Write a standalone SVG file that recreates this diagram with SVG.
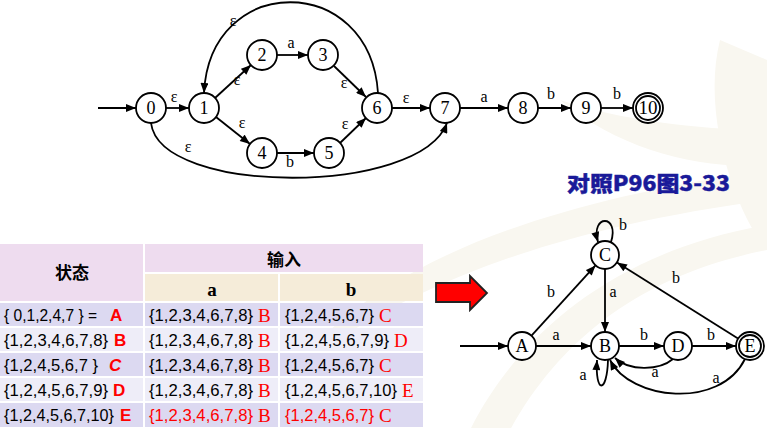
<svg xmlns="http://www.w3.org/2000/svg" width="767" height="428" viewBox="0 0 767 428">
<style>
.n{fill:#fff;stroke:#000;stroke-width:1.8}
.e{fill:none;stroke:#000;stroke-width:1.8}
.nl{font-family:"Liberation Serif",serif;font-size:18px;text-anchor:middle;fill:#000}
.el{font-family:"Liberation Serif",serif;font-size:16px;text-anchor:middle;fill:#000}
.ts{font-family:"Liberation Sans",sans-serif;font-size:16.5px;fill:#000}
.tr{font-family:"Liberation Serif",serif;font-size:19px;fill:#f00}
.trs{font-family:"Liberation Sans",sans-serif;font-size:17px;font-weight:bold;fill:#f00}
.hd{font-family:"Noto Sans CJK SC",sans-serif;font-size:17px;font-weight:bold;text-anchor:middle;fill:#000}
.hl{font-family:"Liberation Serif",serif;font-size:19px;font-weight:bold;text-anchor:middle;fill:#000}
.bg{fill:#f9f7f0}
</style>
<defs>
<marker id="ar" viewBox="0 0 10 8" refX="10" refY="4" markerWidth="11" markerHeight="8" markerUnits="userSpaceOnUse" orient="auto">
<path d="M0,0 L10,4 L0,8 Z" fill="#000"/>
</marker>
</defs>
<rect width="767" height="428" fill="#fff"/>
<g id="background">
<path class="bg" d="M330,330 C420,250 560,200 767,170 L767,200 C580,225 450,270 345,335 Z"/>
<path class="bg" d="M470,430 C520,330 620,250 767,225 L767,250 C640,275 560,340 510,430 Z"/>
<path class="bg" d="M560,100 C620,150 700,170 767,165 L767,130 C700,130 620,120 560,100 Z"/>
<path class="bg" d="M720,40 C700,120 740,220 767,250 L767,60 Z"/>
</g>
<g id="connectors">
<path class="e" marker-end="url(#ar)" d="M98,108 L136,108"/>
<path class="e" marker-end="url(#ar)" d="M165,108 L189,108"/>
<path class="e" marker-end="url(#ar)" d="M215,98 L251,65"/>
<path class="e" marker-end="url(#ar)" d="M216,117 L250,144"/>
<path class="e" marker-end="url(#ar)" d="M277,55 L308,55"/>
<path class="e" marker-end="url(#ar)" d="M277,153 L314,153"/>
<path class="e" marker-end="url(#ar)" d="M334,66 L366,97"/>
<path class="e" marker-end="url(#ar)" d="M340,143 L366,118"/>
<path class="e" marker-end="url(#ar)" d="M392,108 L430,108"/>
<path class="e" marker-end="url(#ar)" d="M460,108 L508,108"/>
<path class="e" marker-end="url(#ar)" d="M538,108 L571,108"/>
<path class="e" marker-end="url(#ar)" d="M601,108 L633,108"/>
<path class="e" marker-end="url(#ar)" d="M378,93 C370,-28 210,-28 204,93"/>
<path class="e" marker-end="url(#ar)" d="M151,123 C160,196 420,196 447,123"/>
<path class="e" marker-end="url(#ar)" d="M460,346 L508,346"/>
<path class="e" marker-end="url(#ar)" d="M536,346 L591,346"/>
<path class="e" marker-end="url(#ar)" d="M619,346 L664,346"/>
<path class="e" marker-end="url(#ar)" d="M692,346 L736,346"/>
<path class="e" marker-end="url(#ar)" d="M605,269 L605,332"/>
<path class="e" marker-end="url(#ar)" d="M531.5,335.6 L595.5,265.4"/>
<path class="e" marker-end="url(#ar)" d="M738,338.5 L617,262.5"/>
<path class="e" marker-end="url(#ar)" d="M673,359 C660,370 630,372 615,358"/>
<path class="e" marker-end="url(#ar)" d="M745,359 C720,410 630,400 610,360"/>
<path class="e" marker-end="url(#ar)" d="M608,360 C607,394 595,394 597,360"/>
<path class="e" marker-end="url(#ar)" d="M611,242 C620,214 590,214 598,242"/>
<g class="el">
<text x="174" y="102">ε</text>
<text x="237" y="85">ε</text>
<text x="242" y="128">ε</text>
<text x="291" y="48">a</text>
<text x="290" y="167">b</text>
<text x="344" y="88">ε</text>
<text x="345" y="129">ε</text>
<text x="406" y="103">ε</text>
<text x="233" y="26">ε</text>
<text x="188" y="152">ε</text>
<text x="484" y="102">a</text>
<text x="551" y="99">b</text>
<text x="617" y="99">b</text>
<text x="623" y="230">b</text>
<text x="551" y="297">b</text>
<text x="613" y="297">a</text>
<text x="676" y="283">b</text>
<text x="556" y="340">a</text>
<text x="644" y="340">b</text>
<text x="711" y="340">b</text>
<text x="655" y="377">a</text>
<text x="716" y="383">a</text>
<text x="583" y="380">a</text>
</g>
</g>
<g id="n0"><circle class="n" cx="151" cy="108" r="15"/><text class="nl" x="151" y="114">0</text></g>
<g id="n1"><circle class="n" cx="204" cy="108" r="15"/><text class="nl" x="204" y="114">1</text></g>
<g id="n2"><circle class="n" cx="262" cy="55" r="15"/><text class="nl" x="262" y="61">2</text></g>
<g id="n3"><circle class="n" cx="323" cy="55" r="15"/><text class="nl" x="323" y="61">3</text></g>
<g id="n4"><circle class="n" cx="262" cy="153" r="15"/><text class="nl" x="262" y="159">4</text></g>
<g id="n5"><circle class="n" cx="329" cy="153" r="15"/><text class="nl" x="329" y="159">5</text></g>
<g id="n6"><circle class="n" cx="377" cy="108" r="15"/><text class="nl" x="377" y="114">6</text></g>
<g id="n7"><circle class="n" cx="445" cy="108" r="15"/><text class="nl" x="445" y="114">7</text></g>
<g id="n8"><circle class="n" cx="523" cy="108" r="15"/><text class="nl" x="523" y="114">8</text></g>
<g id="n9"><circle class="n" cx="586" cy="108" r="15"/><text class="nl" x="586" y="114">9</text></g>
<g id="n10"><circle class="n" cx="648" cy="108" r="15"/><circle class="n" cx="648" cy="108" r="12"/><text class="nl" x="648" y="114" textLength="19" lengthAdjust="spacingAndGlyphs">10</text></g>
<g id="title"><text x="567" y="191" font-family="'Noto Sans CJK SC',sans-serif" font-size="21" font-weight="900" fill="#1a1a99" stroke="#1a1a99" stroke-width="0.4" textLength="163" lengthAdjust="spacingAndGlyphs">对照P96图3-33</text></g>
<g id="table">
<rect x="0" y="244" width="143" height="57" fill="#eedcef"/>
<rect x="145" y="244" width="278" height="28" fill="#eedcef"/>
<rect x="145" y="274" width="133" height="27" fill="#f5ecd9"/>
<rect x="280" y="274" width="143" height="27" fill="#f5ecd9"/>
<g fill="#dcd9f1">
<rect x="0" y="303" width="143" height="23"/><rect x="145" y="303" width="133" height="23"/><rect x="280" y="303" width="143" height="23"/>
<rect x="0" y="353" width="143" height="23"/><rect x="145" y="353" width="133" height="23"/><rect x="280" y="353" width="143" height="23"/>
<rect x="0" y="403" width="143" height="24"/><rect x="145" y="403" width="133" height="24"/><rect x="280" y="403" width="143" height="24"/>
</g>
<g fill="#eeedf8">
<rect x="0" y="328" width="143" height="23"/><rect x="145" y="328" width="133" height="23"/><rect x="280" y="328" width="143" height="23"/>
<rect x="0" y="378" width="143" height="23"/><rect x="145" y="378" width="133" height="23"/><rect x="280" y="378" width="143" height="23"/>
</g>
<text class="hd" x="72" y="279">状态</text>
<text class="hd" x="284" y="266">输入</text>
<text class="hl" x="212" y="296">a</text>
<text class="hl" x="351" y="296">b</text>
<text class="ts" x="4" y="321" textLength="93" lengthAdjust="spacingAndGlyphs">{ 0,1,2,4,7 } =</text><text class="trs" x="110" y="321">A</text>
<text class="ts" x="4" y="346" textLength="104" lengthAdjust="spacingAndGlyphs">{1,2,3,4,6,7,8}</text><text class="trs" x="114" y="346">B</text>
<text class="ts" x="4" y="371" textLength="94" lengthAdjust="spacingAndGlyphs">{1,2,4,5,6,7 }</text><text class="trs" x="109" y="371" font-style="italic">C</text>
<text class="ts" x="4" y="396" textLength="104" lengthAdjust="spacingAndGlyphs">{1,2,4,5,6,7,9}</text><text class="trs" x="113" y="396">D</text>
<text class="ts" x="4" y="421" textLength="110" lengthAdjust="spacingAndGlyphs">{1,2,4,5,6,7,10}</text><text class="trs" x="120" y="421">E</text>
<text class="ts" x="149" y="321" textLength="104" lengthAdjust="spacingAndGlyphs">{1,2,3,4,6,7,8}</text><text class="tr" x="258" y="322">B</text>
<text class="ts" x="149" y="346" textLength="104" lengthAdjust="spacingAndGlyphs">{1,2,3,4,6,7,8}</text><text class="tr" x="258" y="347">B</text>
<text class="ts" x="149" y="371" textLength="104" lengthAdjust="spacingAndGlyphs">{1,2,3,4,6,7,8}</text><text class="tr" x="258" y="372">B</text>
<text class="ts" x="149" y="396" textLength="104" lengthAdjust="spacingAndGlyphs">{1,2,3,4,6,7,8}</text><text class="tr" x="258" y="397">B</text>
<text class="ts" x="149" y="421" textLength="104" lengthAdjust="spacingAndGlyphs" style="fill:#f00">{1,2,3,4,6,7,8}</text><text class="tr" x="258" y="422">B</text>
<text class="ts" x="285" y="321" textLength="89" lengthAdjust="spacingAndGlyphs">{1,2,4,5,6,7}</text><text class="tr" x="379" y="322">C</text>
<text class="ts" x="285" y="346" textLength="104" lengthAdjust="spacingAndGlyphs">{1,2,4,5,6,7,9}</text><text class="tr" x="394" y="347">D</text>
<text class="ts" x="285" y="371" textLength="89" lengthAdjust="spacingAndGlyphs">{1,2,4,5,6,7}</text><text class="tr" x="379" y="372">C</text>
<text class="ts" x="285" y="396" textLength="112" lengthAdjust="spacingAndGlyphs">{1,2,4,5,6,7,10}</text><text class="tr" x="402" y="397">E</text>
<text class="ts" x="285" y="421" textLength="89" lengthAdjust="spacingAndGlyphs" style="fill:#f00">{1,2,4,5,6,7}</text><text class="tr" x="379" y="422">C</text>
</g>
<g id="arrow"><polygon points="436,283 470,283 470,276 487,293 470,310 470,302 436,302" fill="#f00" stroke="#222" stroke-width="1.8" stroke-linejoin="miter"/></g>
<g id="nA"><circle class="n" cx="522" cy="346" r="14"/><text class="nl" x="522" y="352">A</text></g>
<g id="nB"><circle class="n" cx="605" cy="346" r="14"/><text class="nl" x="605" y="352">B</text></g>
<g id="nC"><circle class="n" cx="605" cy="255" r="14"/><text class="nl" x="605" y="261">C</text></g>
<g id="nD"><circle class="n" cx="678" cy="346" r="14"/><text class="nl" x="678" y="352">D</text></g>
<g id="nE"><circle class="n" cx="750" cy="346" r="14"/><circle class="n" cx="750" cy="346" r="11"/><text class="nl" x="750" y="352">E</text></g>
</svg>
